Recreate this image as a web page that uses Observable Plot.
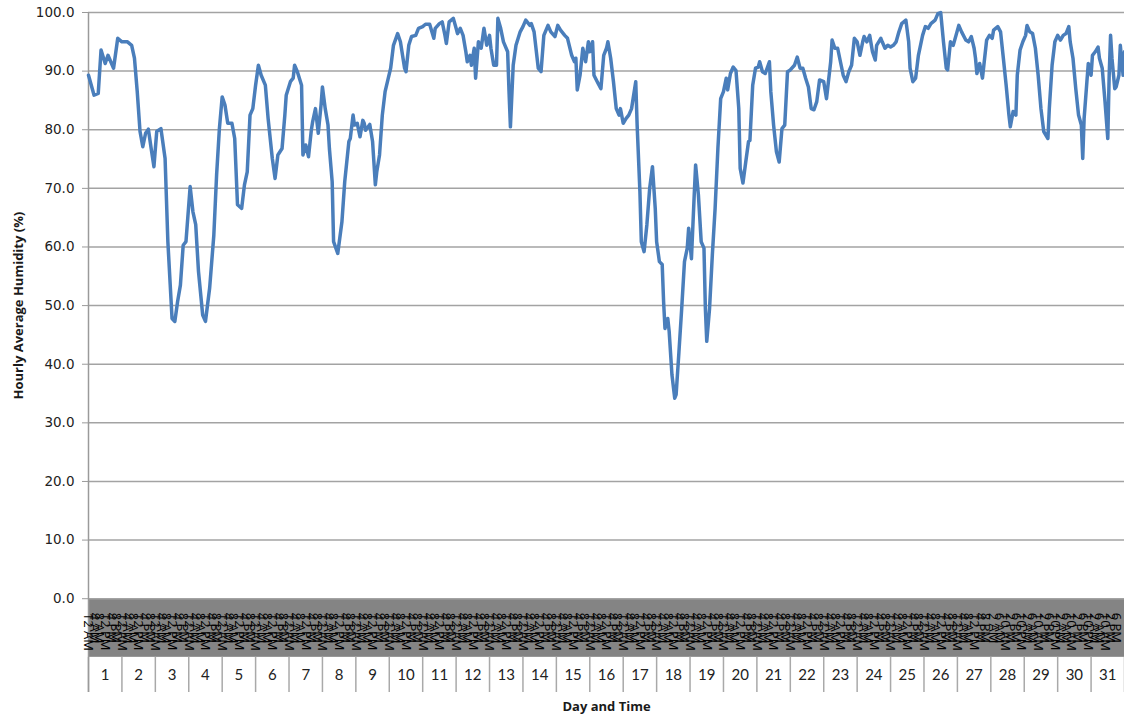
<!DOCTYPE html>
<html><head><meta charset="utf-8">
<script src="https://cdn.jsdelivr.net/npm/d3@7"></script>
<script src="https://cdn.jsdelivr.net/npm/@observablehq/plot@0.6"></script>
<style>body{margin:0;background:#fff;}</style>
</head><body><div id="chart"></div>
<script>
// Hours since 12 AM of day 1
const hours = [0,4,7,9,12,14,16,18,21,24,28,31,33,35,37,39,41,43,45,47,49,52,55,57,60,62,64,66,68,70,73,75,77,79,82,84,87,90,92,94,96,98,100,103,105,107,110,112,114,116,118,120,122,124,127,129,132,134,136,139,141,142,145,147,148,150,153,154,156,158,160,161,163,165,167,168,170,172,173,175,176,179,182,184,187,188,190,191,193,195,197,198,199,202,204,206,207,209,211,213,215,217,219,222,224,227,228,230,232,235,237,240,242,245,248,249,252,254,256,257,259,262,264,265,267,269,271,272,274,275,277,278,280,282,284,286,288,289,291,293,294,296,298,301,302,303,305,307,310,312,314,317,318,320,323,325,327,330,332,335,337,339,342,344,347,349,350,351,353,355,357,359,360,362,363,366,368,370,372,373,375,377,379,381,382,384,386,388,390,393,394,396,397,399,401,403,405,407,408,410,412,413,414,416,417,419,421,422,424,426,428,430,431,433,435,436,438,440,442,443,444,446,448,450,452,454,456,458,459,461,463,465,467,468,470,472,474,475,477,479,481,482,484,486,489,490,492,494,496,498,500,502,504,507,509,511,513,515,517,519,521,523,525,528,530,533,534,536,538,540,542,544,546,548,550,552,554,556,557,559,561,563,565,566,569,570,572,574,576,578,580,582,584,587,589,590,592,594,596,599,601,603,605,608,610,612,614,616,617,619,621,623,625,627,630,632,634,636,637,638,640,642,643,645,647,649,650,653,655,657,659,661,662,664,666,667,669,671,673,674,676,678,680,682,684,686,689,690,692,694,696,698,700,702,704,705,707,709,711,713,714,715,717,718,720,721,723,725,726,728,730,732,733,734,735,737,738,740,741,743,744];
const humidity = [89.3,85.9,86.2,93.6,91.3,92.7,91.6,90.5,95.6,95.0,95.0,94.4,92.2,86.5,79.7,77.1,79.4,80.1,76.8,73.7,79.7,80.2,75.1,60.9,47.8,47.3,50.7,53.5,60.3,60.9,70.3,66.0,63.8,55.8,48.4,47.3,53.0,62.0,72.3,80.2,85.6,84.2,81.1,81.1,78.5,67.2,66.6,70.6,72.8,82.5,83.6,87.6,91.0,89.3,87.6,81.9,75.1,71.7,75.7,76.8,82.5,85.9,88.2,88.8,91.0,89.9,87.6,75.7,77.4,75.4,79.9,81.4,83.6,79.4,84.2,87.3,83.6,80.8,76.8,71.1,60.9,58.9,64.3,71.1,78.0,78.5,82.5,80.8,81.1,78.8,81.6,81.1,79.9,80.9,78.0,70.6,72.8,75.7,82.5,86.5,88.5,90.5,94.4,96.4,95.0,90.5,89.9,94.4,95.9,96.1,97.3,97.6,98.0,98.0,95.6,97.3,98.1,98.4,96.1,94.7,98.4,99.0,97.3,96.4,97.3,96.1,93.3,91.6,92.7,91.0,93.9,88.8,95.0,93.9,97.3,94.4,96.1,93.9,91.0,91.0,99.0,97.3,95.0,93.3,86.5,80.5,91.0,94.4,96.7,97.6,98.7,97.8,98.1,96.7,90.5,89.9,96.1,97.8,96.7,95.9,97.8,97.0,96.1,95.6,92.7,91.6,92.2,86.8,89.3,93.9,91.6,95.0,93.3,95.0,89.3,87.9,87.0,92.7,93.9,95.0,92.2,88.2,83.6,82.5,83.6,81.1,81.9,82.5,83.6,88.2,80.8,69.4,60.9,59.2,63.8,70.0,73.7,66.6,60.9,57.5,57.0,50.7,46.1,47.8,45.6,38.2,34.2,34.8,42.0,49.5,57.5,59.8,63.2,58.0,68.9,74.0,68.9,60.9,59.8,49.5,43.9,49.5,58.6,66.6,76.8,85.3,86.5,88.8,86.8,89.6,90.7,90.1,83.6,73.4,70.9,74.5,78.0,78.2,87.6,90.5,90.7,91.6,89.9,89.6,91.6,86.5,80.8,76.3,74.5,80.2,80.8,89.9,90.2,91.0,92.4,90.5,90.5,88.8,87.3,83.6,83.4,84.8,88.5,88.2,85.3,91.6,95.3,93.9,93.9,91.6,89.3,88.2,89.9,91.0,95.6,95.0,92.7,95.0,95.9,95.0,96.1,93.3,91.9,94.4,95.6,95.0,93.9,94.4,94.1,94.4,95.0,96.7,98.1,98.7,95.0,90.5,88.2,88.8,92.7,96.1,97.6,97.3,98.1,98.7,99.8,100.0,95.0,90.5,90.2,95.0,94.4,96.1,97.8,96.7,95.3,95.0,95.9,93.9,92.2,89.6,91.3,88.8,91.0,95.3,96.1,95.6,97.0,97.6,96.7,92.2,87.6,82.5,80.5,83.1,82.5,89.3,93.6,95.0,96.1,97.8,96.7,96.4,93.9,89.3,83.6,79.7,78.5,83.6,91.0,95.0,96.1,95.3,96.1,96.4,97.6,95.0,92.2,87.0,82.5,80.8,75.1,81.9,88.2,91.3,89.3,92.7,93.3,94.1,92.2,90.5,84.8,78.5,89.3,96.1,92.2,87.0,87.3,89.3,94.4,89.3,93.3];

const yTicks = [0,10,20,30,40,50,60,70,80,90,100];
const days = d3.range(1, 32);
const hourLabelsEarly = ["12 AM","4 AM","8 AM","12 PM","4 PM","8 PM"];
const hourLabelsLate  = ["2 AM","6 AM","10 AM","2 PM","6 PM","10 PM"];
const firstLateDay = 28;
const hoursPerDay = 24;
const totalHours = days.length * hoursPerDay;

const series = hours.map((h, i) => ({hour: h, value: humidity[i]}));
const hourTicks = [];
for (const d of days) {
  const late = d >= firstLateDay;
  const labels = late ? hourLabelsLate : hourLabelsEarly;
  labels.forEach((lab, k) => {
    const h = (d - 1) * hoursPerDay + k * 4 + (late ? 2 : 0);
    if (h < totalHours - 2) hourTicks.push({hour: h, label: lab});
  });
}
const dayBounds = d3.range(0, days.length + 1).map(i => i * hoursPerDay);
const band = [{x1: 0, x2: totalHours, y1: -10, y2: 0}];

const chart = Plot.plot({
  width: 1124,
  height: 719,
  marginLeft: 88,
  marginRight: 0,
  marginTop: 12,
  marginBottom: 27,
  style: {fontFamily: "'Open Sans', sans-serif", background: "#fff", color: "#1a1a1a"},
  x: {domain: [0, totalHours], axis: null},
  y: {domain: [-16, 100], axis: null},
  marks: [
    Plot.rect(band, {x1: "x1", x2: "x2", y1: "y1", y2: "y2", fill: "#848484"}),
    Plot.ruleY(yTicks, {stroke: "#a3a3a3", strokeWidth: 1.5}),
    Plot.ruleX(dayBounds, {y1: -10, y2: -16, stroke: "#a9a9a9", strokeWidth: 1.5}),
    Plot.ruleX([0], {y1: -16, y2: 100, stroke: "#9a9a9a", strokeWidth: 1.5}),
    Plot.axisY(yTicks, {tickSize: 6, tickPadding: 8, tickFormat: d => d.toFixed(1), fontSize: 13.5, fontFamily: "'DejaVu Sans', sans-serif", stroke: "#9a9a9a", fill: "#222", label: null}),
    Plot.text(hourTicks, {x: "hour", y: 0, text: "label", rotate: 90, textAnchor: "start", dy: 14, fontSize: 13, fontFamily: "'Open Sans', sans-serif", fill: "#000"}),
    Plot.text(days, {x: d => (d - 0.5) * hoursPerDay, y: -13, text: d => String(d), fontSize: 15, fontFamily: "Lato, sans-serif", fill: "#222"}),
    Plot.line(series, {x: "hour", y: "value", stroke: "#4a7ebb", strokeWidth: 3.5, strokeLinejoin: "round", strokeLinecap: "round"}),
    Plot.text(["Hourly Average Humidity (%)"], {frameAnchor: "left", y: 50, dx: -70, rotate: -90, textAnchor: "middle", lineAnchor: "middle", text: d => d, fontWeight: "bold", fontSize: 13, fill: "#1a1a1a"}),
    Plot.text(["Day and Time"], {x: totalHours / 2, frameAnchor: "bottom", dy: 14, textAnchor: "middle", lineAnchor: "middle", text: d => d, fontWeight: "bold", fontSize: 13, fill: "#1a1a1a"})
  ]
});
document.getElementById("chart").append(chart);
</script>
</body></html>
